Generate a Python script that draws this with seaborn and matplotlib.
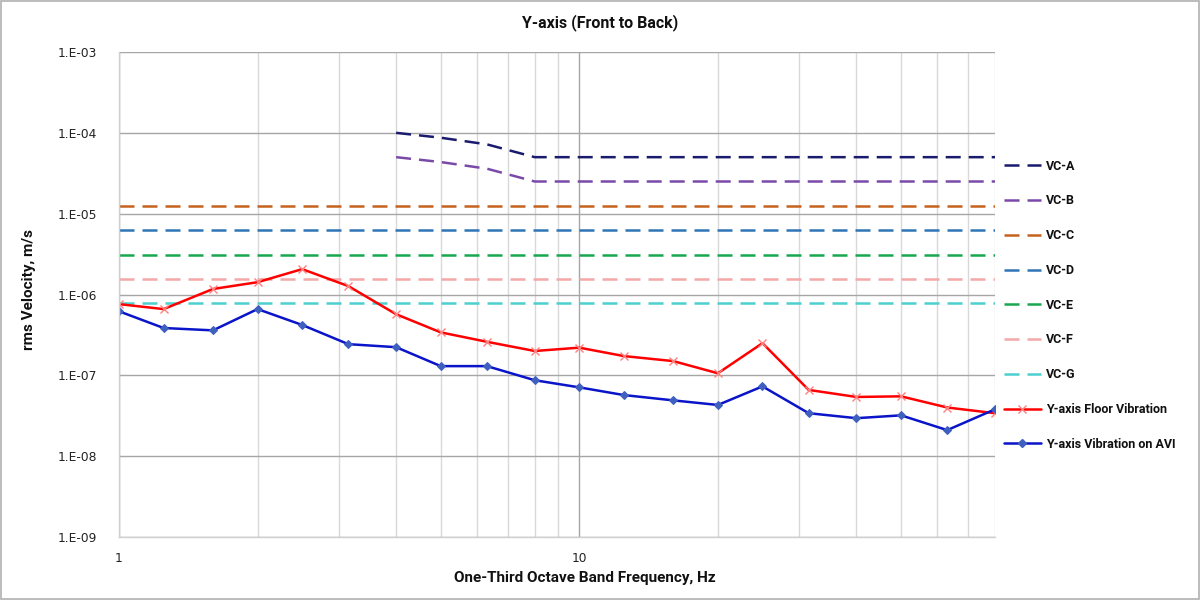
import numpy as np
import pandas as pd
import matplotlib
matplotlib.use("Agg")
import matplotlib.pyplot as plt
import seaborn as sns
from matplotlib.ticker import FixedLocator, FuncFormatter, NullFormatter
from matplotlib.lines import Line2D

# ---- data ----
freq = [1, 1.25, 1.6, 2, 2.5, 3.15, 4, 5, 6.3, 8, 10, 12.5, 16, 20, 25, 31.5, 40, 50, 63, 80]
floor_vib = [7.6e-7, 6.6e-7, 1.17e-6, 1.42e-6, 2.06e-6, 1.27e-6, 5.7e-7, 3.4e-7, 2.6e-7, 2.0e-7,
             2.2e-7, 1.73e-7, 1.5e-7, 1.06e-7, 2.5e-7, 6.6e-8, 5.4e-8, 5.5e-8, 4.0e-8, 3.4e-8]
avi_vib = [6.2e-7, 3.85e-7, 3.6e-7, 6.6e-7, 4.2e-7, 2.43e-7, 2.23e-7, 1.3e-7, 1.3e-7, 8.7e-8,
           7.1e-8, 5.7e-8, 4.9e-8, 4.3e-8, 7.3e-8, 3.4e-8, 2.95e-8, 3.2e-8, 2.1e-8, 3.8e-8]
vc_ab_freq = [4, 5, 6.3, 8, 10, 12.5, 16, 20, 25, 31.5, 40, 50, 63, 80]
vc_a = [1.0e-4, 8.7e-5, 7.2e-5, 5.0e-5, 5e-5, 5e-5, 5e-5, 5e-5, 5e-5, 5e-5, 5e-5, 5e-5, 5e-5, 5e-5]
vc_b = [5.0e-5, 4.35e-5, 3.6e-5, 2.5e-5, 2.5e-5, 2.5e-5, 2.5e-5, 2.5e-5, 2.5e-5, 2.5e-5, 2.5e-5, 2.5e-5, 2.5e-5, 2.5e-5]
vc_flat_freq = [1, 80]
vc_c = [1.25e-5, 1.25e-5]
vc_d = [6.25e-6, 6.25e-6]
vc_e = [3.12e-6, 3.12e-6]
vc_f = [1.56e-6, 1.56e-6]
vc_g = [7.8e-7, 7.8e-7]
y_ticks = [1e-9, 1e-8, 1e-7, 1e-6, 1e-5, 1e-4, 1e-3]
y_tick_labels = ["1.E-09", "1.E-08", "1.E-07", "1.E-06", "1.E-05", "1.E-04", "1.E-03"]

sns.set_theme(style="white")
plt.rcParams['font.family'] = ['Roboto', 'DejaVu Sans']

fig = plt.figure(figsize=(12, 6), dpi=100)
ax = fig.add_axes([119/1200, 1-537/600, (995-119)/1200, (537-52)/600])

dash = (6, 3.2)
vc_series = [
    ("VC-A", vc_ab_freq, vc_a, "#1a1a6e"),
    ("VC-B", vc_ab_freq, vc_b, "#7a4aa8"),
    ("VC-C", vc_flat_freq, vc_c, "#c5631e"),
    ("VC-D", vc_flat_freq, vc_d, "#2e75b6"),
    ("VC-E", vc_flat_freq, vc_e, "#17a84f"),
    ("VC-F", vc_flat_freq, vc_f, "#f4a8a8"),
    ("VC-G", vc_flat_freq, vc_g, "#4ccfcf"),
]
handles = []
for name, fx, fy, col in vc_series:
    sns.lineplot(x=fx, y=fy, ax=ax, color=col, linewidth=1.8, estimator=None, sort=False)
    ax.lines[-1].set_dashes(dash)
    handles.append(Line2D([], [], color=col, linewidth=1.8, dashes=dash, label=name))

sns.lineplot(x=freq, y=floor_vib, ax=ax, color="#ff0000", linewidth=1.8, estimator=None,
             marker="x", markersize=6, markeredgecolor="#ff8080", markeredgewidth=1.0)
handles.append(Line2D([], [], color="#ff0000", linewidth=1.8, marker="x", markersize=6,
                      markeredgecolor="#ff8080", label="Y-axis Floor Vibration"))
sns.lineplot(x=freq, y=avi_vib, ax=ax, color="#0a14c8", linewidth=1.8, estimator=None,
             marker="D", markersize=4, markeredgecolor="#4060c0", markerfacecolor="#4060c0")
handles.append(Line2D([], [], color="#0a14c8", linewidth=1.8, marker="D", markersize=4,
                      markeredgecolor="#4060c0", markerfacecolor="#4060c0",
                      label="Y-axis Vibration on AVI"))

ax.set_xscale("log")
ax.set_yscale("log")
ax.set_xlim(1, 80)
ax.set_ylim(1e-9, 1e-3)

ax.xaxis.set_major_locator(FixedLocator([1, 10]))
ax.xaxis.set_minor_locator(FixedLocator([2, 3, 4, 5, 6, 7, 8, 9, 20, 30, 40, 50, 60, 70, 80]))
ax.xaxis.set_major_formatter(FuncFormatter(lambda v, p: f"{v:g}"))
ax.xaxis.set_minor_formatter(NullFormatter())
ax.yaxis.set_major_locator(FixedLocator(y_ticks))
ax.yaxis.set_minor_locator(FixedLocator([]))
ax.set_yticklabels(y_tick_labels)
ax.tick_params(axis="both", which="both", length=0, colors="#222222")
ax.tick_params(axis="x", pad=11)
ax.tick_params(axis="y", pad=16)
for lab in ax.get_xticklabels() + ax.get_yticklabels():
    lab.set_family(['DejaVu Sans'])
    lab.set_fontsize(8.8)

ax.grid(True, which="major", axis="both", color="#a6a6a6", linewidth=1.0)
ax.grid(True, which="minor", axis="x", color="#d9d9d9", linewidth=1.0)
ax.set_axisbelow(True)
for s in ["top", "right"]:
    ax.spines[s].set_visible(False)
for s in ["left", "bottom"]:
    ax.spines[s].set_color("#d0d0d0")
    ax.spines[s].set_linewidth(1.0)

ax.set_title("Y-axis (Front to Back)", fontsize=11.5, fontweight="bold", pad=18, color="#111111",
             x=(600 - 119) / 876)
ax.set_xlabel("One-Third Octave Band Frequency, Hz", fontsize=11, fontweight="bold", labelpad=8,
              color="#111111")
ax.xaxis.set_label_coords((585 - 119) / 876, -(578 - 537) / 485)
ax.set_ylabel("rms Velocity, m/s", fontsize=11, fontweight="bold", color="#111111")
ax.yaxis.set_label_coords(-(119 - 29) / 876, (537 - 289) / 485)
ax.xaxis.label.set_va("center")
ax.yaxis.label.set_va("center")

leg = ax.legend(handles=handles, loc="upper left", bbox_to_anchor=(1.0, 0.796), frameon=False,
                borderaxespad=0.3, labelspacing=1.74, handlelength=3.0, handletextpad=0.4,
                prop={"weight": "bold", "size": 9})
for t in leg.get_texts():
    t.set_color("#111111")

border = plt.Rectangle((0.0008, 0.0015), 0.9984, 0.997, transform=fig.transFigure,
                       fill=False, edgecolor="#b0b0b0", linewidth=1.2)
fig.patches.append(border)

fig.savefig("out.png", dpi=100)
